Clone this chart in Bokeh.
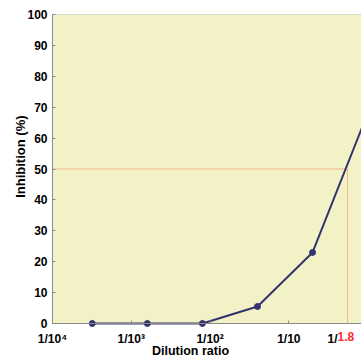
import math
from bokeh.plotting import figure
from bokeh.models import FixedTicker, Range1d, BoxAnnotation
from bokeh.core.properties import value
from bokeh.embed import file_html
from bokeh.resources import INLINE

# data
dilution_denoms = [3125, 625, 125, 25, 5, 1]
inhibition = [0.0, 0.0, 0.0, 5.5, 23.0, 68.0]
dilutions = [1.0 / d for d in dilution_denoms]

tick_values = [1e-4, 1e-3, 1e-2, 1e-1]
tick_labels = ["1/10\u2074", "1/10\u00b3", "1/10\u00b2", "1/10"]
y_ticks = list(range(0, 101, 10))

ic50_denom = 1.8
ic50_level = 50.0

FONT = "Liberation Sans"
NAVY = "#33336e"
ORANGE = "#f3b78a"
GRAY = "#8a8a8a"
YELLOW = "#f3f2c7"

PX_PER_UNIT = 309 / 100.0          # vertical px per % inhibition
PX_PER_DECADE = 78.78              # horizontal px per decade
x_lo = -4 - 52 / PX_PER_DECADE      # room left of the y axis for its texts
x_hi = -4 + 309 / PX_PER_DECADE
y_min = -(358 - 323) / PX_PER_UNIT  # room under the x axis for its texts
y_max = 100 + 14 / PX_PER_UNIT      # room above the top for the "100" label

p = figure(width=361, height=358, output_backend="svg", toolbar_location=None,
           x_axis_type="log",
           x_range=Range1d(10 ** x_lo, 10 ** x_hi), y_range=Range1d(y_min, y_max),
           min_border_left=0, min_border_right=0, min_border_top=0, min_border_bottom=0)

p.background_fill_color = "white"
p.border_fill_color = "white"
p.outline_line_color = None
p.xgrid.visible = False
p.ygrid.visible = False

# plot area fill and border
p.add_layout(BoxAnnotation(left=1e-4, right=10.0, bottom=0, top=100, fill_color=YELLOW,
                           fill_alpha=1.0, line_color=GRAY, line_width=1, level="underlay"))

for ax in (p.xaxis[0], p.yaxis[0]):
    ax.axis_line_color = GRAY
    ax.axis_line_width = 1
    ax.major_tick_line_color = GRAY
    ax.major_tick_in = 3
    ax.major_tick_out = 0
    ax.minor_tick_line_color = None
    ax.major_label_text_font = FONT
    ax.major_label_text_font_style = "bold"
    ax.major_label_text_font_size = "12px"
    ax.major_label_text_color = "black"

xa = p.xaxis[0]
xa.fixed_location = 0
xa.bounds = (1e-4, 10.0)
xa.ticker = FixedTicker(ticks=tick_values)
xa.major_label_overrides = {v: s for v, s in zip(tick_values, tick_labels)}
xa.major_label_standoff = 8

ya = p.yaxis[0]
ya.fixed_location = 1e-4
ya.bounds = (0, 100)
ya.ticker = FixedTicker(ticks=y_ticks)
ya.major_label_standoff = 5

# reference lines at 50% / 1/1.8
ic50_x = 1.0 / ic50_denom
p.segment(x0=[1e-4], y0=[ic50_level], x1=[ic50_x], y1=[ic50_level], line_color=ORANGE, line_width=1)
p.segment(x0=[ic50_x], y0=[0], x1=[ic50_x], y1=[ic50_level], line_color=ORANGE, line_width=1)

# curve
p.line(dilutions, inhibition, line_color=NAVY, line_width=2)
p.scatter(dilutions, inhibition, size=6, fill_color=NAVY, line_color=NAVY)

# 1/1.8 tick label in two colours
label_y = -8 / PX_PER_UNIT
p.text(x=[ic50_x], y=[label_y], text=["1/"], x_offset=-10, text_align="right",
       text_baseline="top", text_font=value(FONT), text_font_style="bold",
       text_font_size="12px", text_color="black")
p.text(x=[ic50_x], y=[label_y], text=["1.8"], x_offset=-10, text_align="left",
       text_baseline="top", text_font=value(FONT), text_font_style="bold",
       text_font_size="12px", text_color="#ff2a2a")

# axis titles
p.text(x=[10 ** -2.248], y=[-20 / PX_PER_UNIT], text=["Dilution ratio"], text_align="center",
       text_baseline="top", text_font=value(FONT), text_font_style="bold",
       text_font_size="12.5px", text_color="black")
p.text(x=[1e-4], y=[54], x_offset=-32, text=["Inhibition (%)"], angle=math.pi / 2,
       text_align="center", text_baseline="middle", text_font=value(FONT),
       text_font_style="bold", text_font_size="13px", text_color="black")

open("out.html", "w").write(file_html(p, INLINE))
